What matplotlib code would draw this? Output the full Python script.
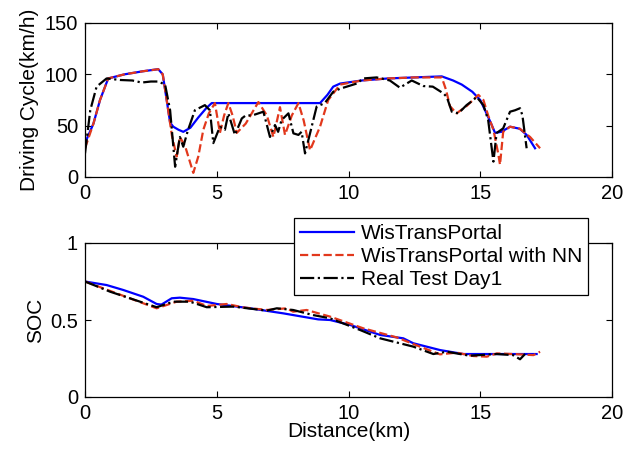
import matplotlib
matplotlib.use("Agg")
import matplotlib.pyplot as plt

plt.rcParams["font.family"] = ["Liberation Sans", "DejaVu Sans"]
plt.rcParams["font.size"] = 15

# Driving cycle (km/h) vs distance (km)
blue_top_x = [0, 0.32, 0.57, 0.88, 1.5, 2.2, 2.78, 2.95, 3.1, 3.23, 3.35, 3.55, 3.73, 4.0,
              4.3, 4.6, 4.81, 5.5, 7.0, 8.5, 8.92, 9.2, 9.42, 9.68, 10.5, 11.5, 12.5, 13.54,
              13.97, 14.3, 14.7, 15.0, 15.2, 15.43, 15.56, 15.8, 16.13, 16.5, 16.76, 17.08]
blue_top_y = [33, 52, 75, 96, 100, 103, 105, 100, 75, 53, 49, 46, 44, 48,
              58, 67, 72, 72, 72, 72, 72, 80, 88, 91, 94, 96, 97, 98,
              94, 90, 83, 75, 64, 51, 43, 44, 49, 47, 41, 28]

red_top_x = [0, 0.32, 0.57, 0.88, 1.5, 2.2, 2.78, 2.95, 3.1, 3.3, 3.48, 3.6, 3.8, 4.11,
             4.3, 4.49, 4.7, 4.93, 5.12, 5.28, 5.44, 5.6, 5.76, 6.1, 6.58, 6.9, 7.15, 7.4,
             7.59, 7.85, 8.1, 8.3, 8.54, 8.92, 9.23, 9.68, 10.5, 11.5, 12.5, 13.54, 13.7,
             13.85, 14.1, 14.48, 14.93, 15.12, 15.3, 15.5, 15.68, 15.75, 15.87, 16.13,
             16.5, 16.89, 17.27]
red_top_y = [28, 52, 75, 96, 100, 103, 105, 100, 75, 40, 20, 39, 30, 4,
             20, 46, 62, 72, 43, 60, 72, 60, 43, 52, 73, 60, 39, 68,
             41, 60, 72, 55, 26, 49, 75, 90, 94, 96, 97, 97, 85,
             69, 62, 69, 80, 75, 60, 46, 23, 12, 44, 49,
             47, 39, 28]

black_top_x = [0, 0.2, 0.44, 0.82, 1.33, 1.8, 2.15, 2.5, 2.78, 3.04, 3.23, 3.42, 3.6, 3.73,
               3.9, 4.17, 4.55, 4.74, 4.87, 5.12, 5.31, 5.44, 5.69, 5.95, 6.1, 6.35, 6.77,
               7.02, 7.21, 7.33, 7.46, 7.72, 7.91, 8.1, 8.22, 8.35, 8.54, 8.79, 9.1, 9.42,
               9.68, 10.31, 10.56, 11.07, 11.57, 11.95, 12.4, 12.84, 13.2, 13.6, 13.73,
               13.92, 14.17, 14.48, 14.74, 14.86, 15.12, 15.3, 15.5, 15.62, 15.87, 16.13,
               16.32, 16.51, 16.6, 16.76]
black_top_y = [23, 65, 88, 96, 94.5, 94, 92, 93, 93, 90, 65, 10, 39, 29.5,
               45, 65, 70, 65, 33, 49, 46, 62, 41, 57, 60, 60, 63.6,
               39, 50.6, 44, 55.5, 62, 42.5, 41, 44, 23, 42.5, 68.5, 72, 83,
               86, 91, 96, 97, 94, 87, 94, 88.6, 88, 81.5, 78,
               63.6, 62, 70, 75, 78, 70, 55.5, 15, 42.8, 47.4, 63.6,
               65, 67, 60, 28]

# State of charge vs distance (km)
blue_soc_x = [0, 0.82, 1.45, 2.21, 2.72, 2.9, 3.29, 3.6, 4.11, 5.0, 6.26, 7.53, 8.85, 9.3,
              10.06, 11.2, 12.08, 12.46, 13.47, 14.36, 17.14]
blue_soc_y = [0.75, 0.727, 0.695, 0.651, 0.604, 0.60, 0.641, 0.645, 0.636, 0.604, 0.576,
              0.543, 0.504, 0.5, 0.468, 0.403, 0.381, 0.349, 0.305, 0.279, 0.279]

red_soc_x = [0, 1.2, 2.72, 3.48, 4.11, 4.62, 5.38, 6.0, 6.9, 7.65, 7.9, 8.41, 9.3, 10.56,
             11.83, 12.71, 13.47, 14.1, 14.74, 15.25, 15.63, 16.25, 17.02, 17.27]
red_soc_y = [0.75, 0.673, 0.576, 0.619, 0.625, 0.591, 0.604, 0.582, 0.565, 0.576, 0.554,
             0.565, 0.522, 0.446, 0.387, 0.327, 0.277, 0.288, 0.266, 0.262, 0.283, 0.279,
             0.272, 0.294]

black_soc_x = [0, 0.95, 2.72, 3.35, 3.98, 4.62, 5.63, 6.9, 7.28, 7.9, 8.66, 9.3, 10.44,
               11.2, 12.46, 13.22, 13.73, 14.6, 15.63, 16.25, 16.51, 16.7]
black_soc_y = [0.75, 0.684, 0.583, 0.619, 0.619, 0.583, 0.587, 0.561, 0.576, 0.565, 0.532,
               0.511, 0.435, 0.381, 0.327, 0.279, 0.294, 0.268, 0.279, 0.272, 0.245, 0.279]

labels = ["WisTransPortal", "WisTransPortal with NN", "Real Test Day1"]
RED = "#E2381C"

fig = plt.figure(figsize=(6.24, 4.49), dpi=100)
ax1 = fig.add_axes([85 / 624, 1 - 177 / 449, 527 / 624, 154 / 449])
ax2 = fig.add_axes([85 / 624, 1 - 397 / 449, 527 / 624, 154 / 449])

ax1.plot(blue_top_x, blue_top_y, "-", color="blue", lw=1.6)
ax1.plot(red_top_x, red_top_y, "--", color=RED, lw=1.6)
ax1.plot(black_top_x, black_top_y, "-.", color="black", lw=1.6)

l1, = ax2.plot(blue_soc_x, blue_soc_y, "-", color="blue", lw=1.6)
l2, = ax2.plot(red_soc_x, red_soc_y, "--", color=RED, lw=1.6)
l3, = ax2.plot(black_soc_x, black_soc_y, "-.", color="black", lw=1.6)

ax1.set_xlim(0, 20)
ax1.set_ylim(0, 150)
ax1.set_xticks([0, 5, 10, 15, 20])
ax1.set_yticks([0, 50, 100, 150])
ax1.set_ylabel("Driving Cycle(km/h)", labelpad=4)

ax2.set_xlim(0, 20)
ax2.set_ylim(0, 1)
ax2.set_xticks([0, 5, 10, 15, 20])
ax2.set_yticks([0, 0.5, 1])
ax2.set_yticklabels(["0", "0.5", "1"])
ax2.set_ylabel("SOC", labelpad=4)
ax2.set_xlabel("Distance(km)", labelpad=-1)

for ax in (ax1, ax2):
    ax.tick_params(direction="in", top=True, right=True, length=4, width=0.8,
                   labelsize=14.5)
    ax.tick_params(axis="x", pad=5)
    ax.tick_params(axis="y", pad=5)
    for s in ax.spines.values():
        s.set_linewidth(0.9)

leg = fig.legend([l1, l2, l3], labels, loc="center",
                 bbox_to_anchor=(441 / 624, 1 - 256.5 / 449),
                 fancybox=False, framealpha=1, edgecolor="black", fontsize=15,
                 handlelength=2.6, borderpad=0.3, labelspacing=0.2,
                 handletextpad=0.3, borderaxespad=0)
leg.get_frame().set_linewidth(0.9)
leg.set_zorder(10)

fig.savefig("out.png", dpi=100)
